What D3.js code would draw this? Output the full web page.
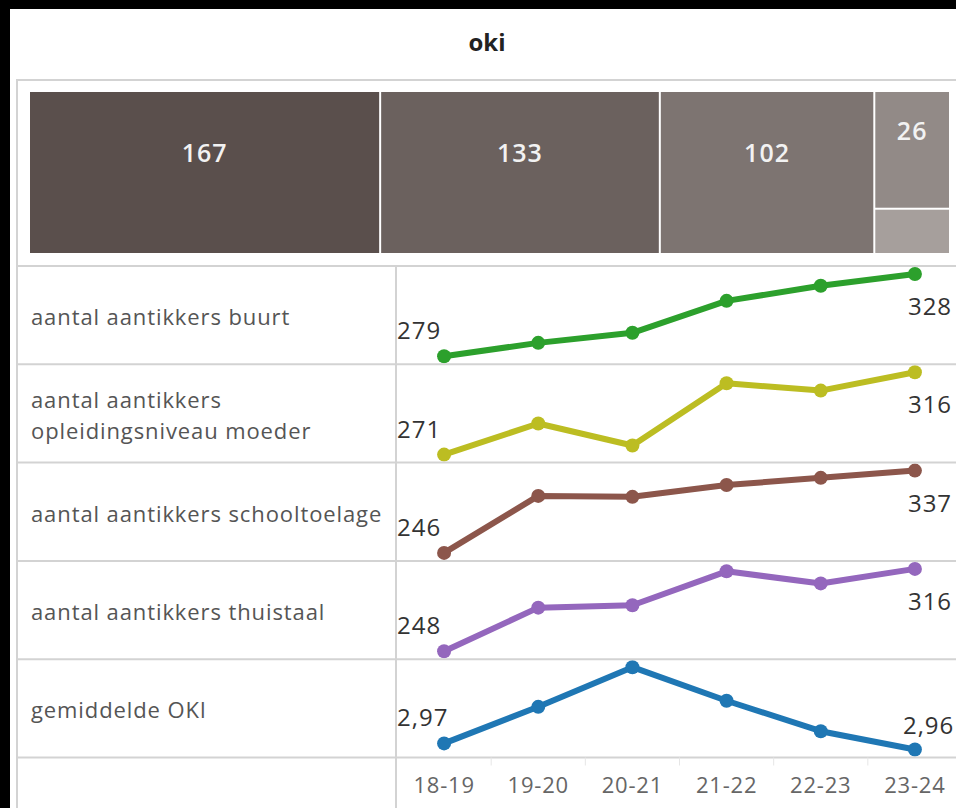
<!DOCTYPE html>
<html>
<head>
<meta charset="utf-8">
<script src="https://cdn.jsdelivr.net/npm/d3@7"></script>
<style>
  html, body { margin: 0; padding: 0; background: #000; }
  svg { display: block; font-family: "Open Sans", sans-serif; }
</style>
</head>
<body>
<svg id="chart" width="956" height="808"></svg>
<script>
// schooljaren
const years = ["18-19", "19-20", "20-21", "21-22", "22-23", "23-24"];

// rij labels + waarden per rij
const rowLabels = [
  ["aantal aantikkers buurt"],
  ["aantal aantikkers", "opleidingsniveau moeder"],
  ["aantal aantikkers schooltoelage"],
  ["aantal aantikkers thuistaal"],
  ["gemiddelde OKI"]
];
const buurt = [279, 287, 293, 312, 321, 328];
const opleiding = [271, 288, 276, 310, 306, 316];
const schooltoelage = [246, 309, 308, 321, 329, 337];
const thuistaal = [248, 284, 286, 314, 304, 316];
const gemOki = [2.97, 3.03, 3.095, 3.04, 2.99, 2.96];
const rowValues = [buurt, opleiding, schooltoelage, thuistaal, gemOki];
const lineColors = ["#2ca02c", "#bcbd22", "#8c564b", "#9467bd", "#1f77b4"];

// treemap bovenaan
const tileValues = [167, 133, 102, 26, 10];
const tileColors = ["#5a4f4c", "#6b615e", "#7d7471", "#928a87", "#a69f9c"];

const nl = d3.formatLocale({decimal: ",", thousands: ".", grouping: [3], currency: ["€", ""]});
const fmtInt = nl.format("d");
const fmtDec = nl.format(".2f");

const svg = d3.select("#chart");
const W = 956, H = 808;

svg.append("rect").attr("width", W).attr("height", H).attr("fill", "#000");
svg.append("rect").attr("x", 10).attr("y", 9).attr("width", W - 10).attr("height", H - 9).attr("fill", "#fff");

svg.append("text")
  .attr("x", 487).attr("y", 51)
  .attr("text-anchor", "middle")
  .attr("font-size", 24).attr("font-weight", 700).attr("fill", "#222")
  .text("oki");

const gridCol = "#d3d3d3";

// treemap paneel
svg.append("rect").attr("x", 17).attr("y", 80).attr("width", W).attr("height", 186)
  .attr("fill", "none").attr("stroke", gridCol).attr("stroke-width", 2);

const root = d3.hierarchy({children: tileValues.map((v, i) => ({value: v, i}))})
  .sum(d => d.value || 0)
  .sort((a, b) => b.value - a.value);
d3.treemap().tile(d3.treemapSquarify).size([919, 161]).paddingInner(2)(root);

const tm = svg.append("g").attr("transform", "translate(30,92)");
const tiles = tm.selectAll("g").data(root.leaves()).join("g");
tiles.append("rect")
  .attr("x", d => d.x0).attr("y", d => d.y0)
  .attr("width", d => d.x1 - d.x0).attr("height", d => d.y1 - d.y0)
  .attr("fill", d => tileColors[d.data.i]);
tiles.filter(d => d.data.value > 20).append("text")
  .attr("x", d => (d.x0 + d.x1) / 2)
  .attr("y", d => (d.y0 + d.y1) / 2 - 19)
  .attr("dy", "0.35em")
  .attr("text-anchor", "middle")
  .attr("font-size", 25).attr("font-weight", 600).attr("letter-spacing", 1).attr("fill", "#f2f2f2")
  .text(d => d.data.value);

// tabel met lijnen
const tableTop = 266, rowH = 98.3, colX = 396, tableLeft = 17;
const x = d3.scaleBand().domain(years).range([colX + 1, 962]);
const px = d => x(d) + x.bandwidth() / 2;

const rowsG = svg.append("g");
rowValues.forEach((vals, r) => {
  const top = tableTop + r * rowH, bottom = top + rowH;
  const y = d3.scaleLinear().domain(d3.extent(vals)).range([bottom - 8, top + 8]);
  const fmt = r === 4 ? fmtDec : fmtInt;
  const g = rowsG.append("g");

  // label links
  const lines = rowLabels[r];
  const lh = 31;
  const t = g.append("text").attr("font-size", 22).attr("letter-spacing", 0.9).attr("fill", "#555");
  lines.forEach((s, k) => {
    t.append("tspan").attr("x", 31)
      .attr("y", (top + bottom) / 2 + 10 + (k - (lines.length - 1) / 2) * lh)
      .text(s);
  });

  const pts = vals.map((v, i) => [px(years[i]), y(v)]);
  g.append("path")
    .attr("d", d3.line()(pts))
    .attr("fill", "none").attr("stroke", lineColors[r])
    .attr("stroke-width", 6).attr("stroke-linejoin", "round");
  g.selectAll("circle").data(pts).join("circle")
    .attr("cx", d => d[0]).attr("cy", d => d[1]).attr("r", 7)
    .attr("fill", lineColors[r]);

  // eerste en laatste waarde
  g.append("text")
    .attr("x", colX + 1).attr("y", pts[0][1] - 17)
    .attr("font-size", 24).attr("letter-spacing", 1).attr("fill", "#333")
    .text(fmt(vals[0]));
  const last = pts[pts.length - 1];
  const atTop = vals[vals.length - 1] === d3.max(vals);
  g.append("text")
    .attr("x", last[0] - (atTop ? 7 : 12)).attr("y", atTop ? last[1] + 41 : last[1] - 16)
    .attr("font-size", 24).attr("letter-spacing", 1).attr("fill", "#333")
    .text(fmt(vals[vals.length - 1]));
});

// rasterlijnen
const grid = svg.append("g").attr("stroke", gridCol).attr("stroke-width", 2);
d3.range(rowValues.length + 1).forEach(r => {
  const yy = tableTop + r * rowH;
  grid.append("line").attr("x1", tableLeft).attr("x2", W).attr("y1", yy).attr("y2", yy);
});
grid.append("line").attr("x1", tableLeft).attr("x2", tableLeft).attr("y1", tableTop).attr("y2", H);
grid.append("line").attr("x1", colX).attr("x2", colX).attr("y1", tableTop).attr("y2", H);

// x-as
const axisY = tableTop + rowValues.length * rowH;
const axis = svg.append("g").attr("transform", `translate(0,${axisY})`)
  .call(d3.axisBottom(x).tickSize(0).tickPadding(20));
axis.select(".domain").remove();
axis.selectAll("text")
  .attr("font-size", 22).attr("letter-spacing", 0.8).attr("fill", "#666").attr("font-family", "Open Sans, sans-serif");
svg.append("g").selectAll("line").data(years.slice(1)).join("line")
  .attr("x1", d => x(d)).attr("x2", d => x(d))
  .attr("y1", axisY).attr("y2", axisY + 8)
  .attr("stroke", "#e6e6e6").attr("stroke-width", 1);
</script>
</body>
</html>
